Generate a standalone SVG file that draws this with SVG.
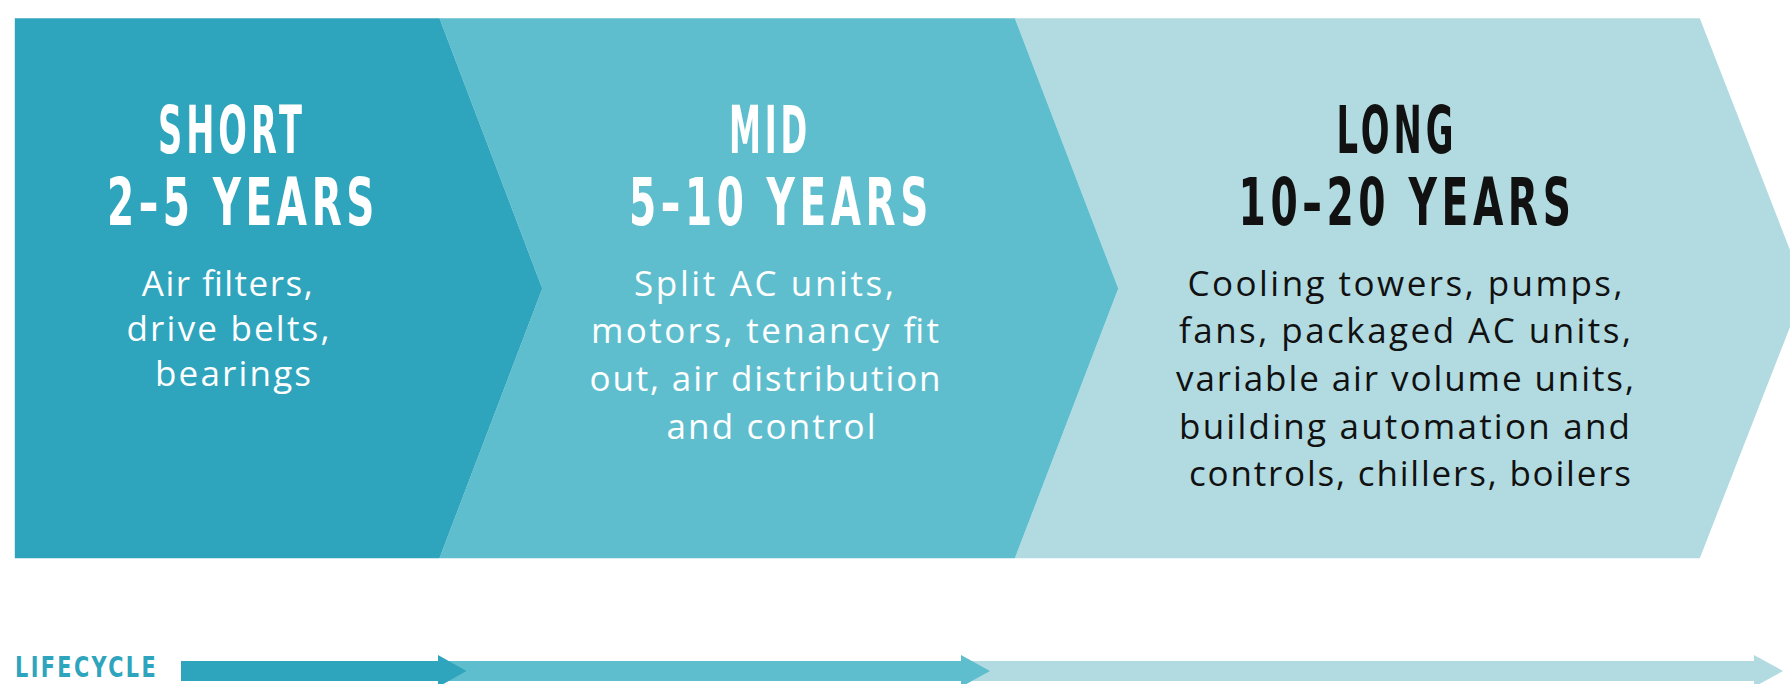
<svg xmlns="http://www.w3.org/2000/svg" width="1790" height="684" viewBox="0 0 1790 684">
<style>
.hd{font-family:"Liberation Sans Narrow","DejaVu Sans Condensed","Liberation Sans",sans-serif;font-weight:bold;font-size:66px;letter-spacing:7px;text-anchor:middle}
.bd{font-family:"Open Sans","Noto Sans","Liberation Sans",sans-serif;font-weight:400;font-size:35px;text-anchor:middle}
.w{fill:#ffffff}
.k{fill:#111111}
.c1{fill:#2EA5BD}
.c2{fill:#5FBECE}
.c3{fill:#B1DBE1}
</style>
<rect width="1790" height="684" fill="#ffffff"/>
<g id="long">
<polygon class="c3" points="1014.9,18.3 1699.8,18.3 1805,288.5 1699.8,558.2 1014.9,558.2 1118.3,288.5"/>
<text class="hd k" x="1397" y="152.7" textLength="121" lengthAdjust="spacingAndGlyphs">LONG</text>
<text class="hd k" x="1407" y="225" textLength="337" lengthAdjust="spacingAndGlyphs">10–20 YEARS</text>
<text class="bd k" x="1405" y="296" textLength="435" lengthAdjust="spacing">Cooling towers, pumps,</text>
<text class="bd k" x="1405" y="342.5" textLength="452" lengthAdjust="spacing">fans, packaged AC units,</text>
<text class="bd k" x="1405" y="390.5" textLength="458" lengthAdjust="spacing">variable air volume units,</text>
<text class="bd k" x="1404.5" y="438.5" textLength="451" lengthAdjust="spacing">building automation and</text>
<text class="bd k" x="1410" y="486" textLength="442" lengthAdjust="spacing">controls, chillers, boilers</text>
</g>
<g id="mid">
<polygon class="c2" points="439.5,18.3 1014.9,18.3 1118.3,288.5 1014.9,558.2 439.5,558.2 542.3,288.5"/>
<text class="hd w" x="770" y="152.7" textLength="82" lengthAdjust="spacingAndGlyphs">MID</text>
<text class="hd w" x="781" y="225" textLength="304" lengthAdjust="spacingAndGlyphs">5–10 YEARS</text>
<text class="bd w" x="764" y="296" textLength="260" lengthAdjust="spacing">Split AC units,</text>
<text class="bd w" x="765" y="342.5" textLength="348" lengthAdjust="spacing">motors, tenancy fit</text>
<text class="bd w" x="765" y="390.5" textLength="351" lengthAdjust="spacing">out, air distribution</text>
<text class="bd w" x="771" y="438.5" textLength="209" lengthAdjust="spacing">and control</text>
</g>
<g id="short">
<polygon class="c1" points="14.8,18.3 439.5,18.3 542.3,288.5 439.5,558.2 14.8,558.2"/>
<text class="hd w" x="232" y="152.7" textLength="148" lengthAdjust="spacingAndGlyphs">SHORT</text>
<text class="hd w" x="243" y="225" textLength="272" lengthAdjust="spacingAndGlyphs">2–5 YEARS</text>
<text class="bd w" x="227.3" y="296" textLength="171" lengthAdjust="spacing">Air filters,</text>
<text class="bd w" x="228" y="341" textLength="203" lengthAdjust="spacing">drive belts,</text>
<text class="bd w" x="233" y="386" textLength="156" lengthAdjust="spacing">bearings</text>
</g>
<g id="connectors">
<polygon class="c3" points="961,661 1754,661 1754,655 1783,671 1754,687 1754,681 961,681"/>
<polygon class="c2" points="438,661 961,661 961,655 990,671 961,687 961,681 438,681"/>
<polygon class="c1" points="181,661 438,661 438,655 466.5,671 438,687 438,681 181,681"/>
</g>
<g id="lifecycle-label">
<text x="15" y="677" font-family="'Liberation Sans Narrow','DejaVu Sans Condensed',sans-serif" font-weight="bold" font-size="29" letter-spacing="3" fill="#2EA5BD" textLength="143" lengthAdjust="spacingAndGlyphs">LIFECYCLE</text>
</g>
</svg>
